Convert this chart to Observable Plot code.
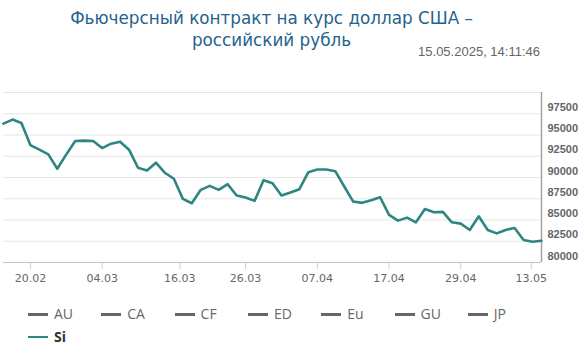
<!DOCTYPE html>
<html>
<head>
<meta charset="utf-8">
<script src="https://cdn.jsdelivr.net/npm/d3@7"></script>
<script src="https://cdn.jsdelivr.net/npm/@observablehq/plot@0.6"></script>
<style>
  html, body { margin: 0; padding: 0; background: #fff; }
  #wrap { width: 584px; position: relative; }
  #header { position: relative; height: 72px; }
  #title { position: absolute; left: 0; top: 7px; width: 543px; text-align: center;
    font-family: "DejaVu Sans", sans-serif; font-size: 16.8px; line-height: 22.4px; color: #24628e; }
  #stamp { position: absolute; right: 44px; top: 44px; font-family: "Liberation Sans", Arial, sans-serif;
    font-size: 13px; line-height: 16px; color: #666; }
  #legend { position: relative; height: 70px; font-family: "Open Sans", sans-serif; font-size: 14px; }
  .item { position: absolute; top: 0; height: 22px; line-height: 22px; white-space: nowrap; color: #666; }
  .sw { display: inline-block; width: 20px; height: 2.5px; vertical-align: middle; margin-right: 6px; position: relative; top: -1px; }
</style>
</head>
<body>
<div id="wrap">
  <div id="header">
    <div id="title">Фьючерсный контракт на курс доллар США –<br>российский рубль</div>
    <div id="stamp">15.05.2025, 14:11:46</div>
  </div>
  <div id="chart"></div>
  <div id="legend"></div>
</div>
<script>
const values = [96341, 96813, 96412, 93815, 93272, 92717, 91029, 92717, 94287, 94334,
  94287, 93461, 93980, 94216, 93272, 91147, 90828, 91737, 90557, 89849,
  87488, 86968, 88550, 89022, 88550, 89211, 87877, 87641, 87252, 89683,
  89329, 87877, 88231, 88621, 90628, 90946, 90946, 90746, 88940, 87169,
  87016, 87322, 87677, 85599, 84926, 85280, 84726, 86284, 85906, 85953,
  84726, 84572, 83829, 85434, 83829, 83427, 83829, 84065, 82648, 82447, 82566];
const tickIdx = [3, 11, 19.67, 27, 35, 43, 51, 58.85];
const tickLabels = ["20.02", "04.03", "16.03", "26.03", "07.04", "17.04", "29.04", "13.05"];
const gridValues = [80000, 82500, 85000, 87500, 90000, 92500, 95000, 97500, 100000];
const yLabels = [80000, 82500, 85000, 87500, 90000, 92500, 95000, 97500];
const legendNames = ["AU", "CA", "CF", "ED", "Eu", "GU", "JP", "Si"];
const activeSeries = "Si";
const lineColor = "#2e8682";

const chart = Plot.plot({
  width: 584, height: 220,
  marginTop: 20, marginBottom: 30, marginLeft: 3, marginRight: 43,
  x: {domain: [0, values.length - 1], axis: null},
  y: {domain: [80000, 100000], axis: null},
  style: {background: "transparent", overflow: "visible"},
  marks: [
    Plot.gridY(gridValues, {stroke: "#e6e6e6", strokeOpacity: 1}),
    Plot.ruleY([80000], {stroke: "#c4c4c4"}),
    Plot.ruleX([values.length - 1], {stroke: "#a3a3a3", strokeWidth: 1.5}),
    Plot.axisX(tickIdx, {
      tickSize: 7, tickPadding: 5, stroke: "#cccccc", fill: "#666",
      tickFormat: d => tickLabels[tickIdx.indexOf(d)],
      fontFamily: "DejaVu Sans", fontSize: 11, label: null
    }),
    Plot.axisY(yLabels, {
      anchor: "right", tickSize: 0, tickPadding: 6, dy: -6.5, fill: "#666",
      tickFormat: d => String(d), fontFamily: "Liberation Sans", fontSize: 11,
      fontWeight: "bold", label: null
    }),
    Plot.lineY(values, {x: (d, i) => i, y: d => d, stroke: lineColor, strokeWidth: 2.6})
  ]
});
document.getElementById("chart").appendChild(chart);

const legend = document.getElementById("legend");
legendNames.forEach((name, i) => {
  const row = Math.floor(i / 7), col = i % 7;
  const el = document.createElement("div");
  el.className = "item";
  el.style.left = (28 + col * 73.3) + "px";
  el.style.top = (11 + row * 22.7) + "px";
  const sw = document.createElement("span");
  sw.className = "sw";
  const active = name === activeSeries;
  sw.style.background = active ? lineColor : "#666";
  const tx = document.createElement("span");
  tx.textContent = name;
  if (active) { tx.style.fontWeight = "bold"; tx.style.color = "#333"; }
  el.appendChild(sw); el.appendChild(tx);
  legend.appendChild(el);
});
</script>
</body>
</html>
